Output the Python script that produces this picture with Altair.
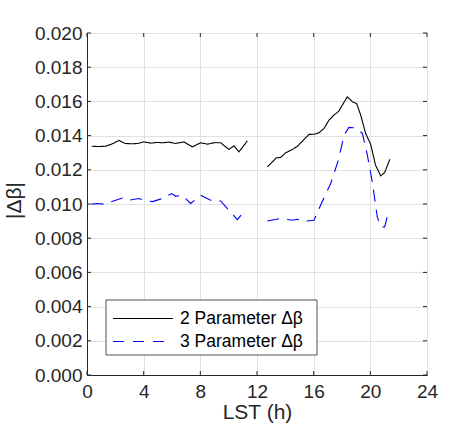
import altair as alt
import pandas as pd

# Local solar time (h) and |delta beta| for the two fits, split at the data gap
hours_2p_a = [0.33, 0.85, 1.32, 1.79, 2.26, 2.68, 3.20, 3.56, 4.02, 4.50, 4.97, 5.32,
              5.79, 6.21, 6.85, 7.44, 8.02, 8.50, 8.96, 9.44, 10.02, 10.37, 10.73, 11.32]
vals_2p_a = [0.01338, 0.01336, 0.01338, 0.01352, 0.01372, 0.01354, 0.01352, 0.01354,
             0.01363, 0.01356, 0.01360, 0.01358, 0.01362, 0.01354, 0.01363, 0.01334,
             0.01358, 0.01350, 0.01358, 0.01358, 0.01319, 0.01340, 0.01305, 0.01369]

hours_2p_b = [12.73, 13.08, 13.37, 13.67, 14.02, 14.50, 14.85, 15.20, 15.67, 16.02, 16.37,
              16.73, 17.08, 17.43, 17.78, 18.02, 18.38, 18.73, 19.03, 19.32, 19.67, 20.02,
              20.37, 20.73, 21.01, 21.38]
vals_2p_b = [0.01217, 0.01246, 0.01270, 0.01272, 0.01299, 0.01319, 0.01338, 0.01367,
             0.01407, 0.01408, 0.01416, 0.01442, 0.01490, 0.01520, 0.01543, 0.01578,
             0.01627, 0.01598, 0.01588, 0.01520, 0.01412, 0.01350, 0.01227, 0.01164,
             0.01184, 0.01262]

hours_3p_a = [0.33, 0.73, 1.20, 2.03, 2.50, 2.96, 3.67, 4.14, 4.62, 5.32, 5.98, 6.26,
              6.73, 7.32, 8.02, 8.73, 9.44, 10.02, 10.61, 10.97]
vals_3p_a = [0.00999, 0.01003, 0.00999, 0.01022, 0.01035, 0.01022, 0.01032, 0.01018,
             0.01014, 0.01032, 0.01061, 0.01045, 0.01051, 0.01003, 0.01051, 0.01022,
             0.01018, 0.00963, 0.00909, 0.00944]

hours_3p_b = [12.73, 13.67, 14.50, 14.85, 15.38, 16.02, 16.49, 17.20, 17.78, 18.14,
              18.49, 18.96, 19.44, 19.79, 20.14, 20.49, 20.73, 21.01, 21.31]
vals_3p_b = [0.00901, 0.00915, 0.00905, 0.00911, 0.00899, 0.00905, 0.00993, 0.01120,
             0.01266, 0.01403, 0.01448, 0.01445, 0.01413, 0.01286, 0.01129, 0.00924,
             0.00866, 0.00866, 0.00963]

series_names = ["2 Parameter Δβ", "3 Parameter Δβ"]
series_colors = ["#000000", "#0000ff"]

x_ticks = [0, 4, 8, 12, 16, 20, 24]
y_ticks = [0.000, 0.002, 0.004, 0.006, 0.008, 0.010, 0.012, 0.014, 0.016, 0.018, 0.020]

rows = []
for name, seg, hs, vs in [
    (series_names[0], "a2", hours_2p_a, vals_2p_a),
    (series_names[0], "b2", hours_2p_b, vals_2p_b),
    (series_names[1], "a3", hours_3p_a, vals_3p_a),
    (series_names[1], "b3", hours_3p_b, vals_3p_b),
]:
    for h, v in zip(hs, vs):
        rows.append({"hour": h, "value": v, "series": name, "seg": seg})
df = pd.DataFrame(rows)

W, H = 340, 342
FONT = "Liberation Sans"
INK = "#262626"
TL = 4  # inward tick length

xs = alt.Scale(domain=[0, 24], nice=False)
ys = alt.Scale(domain=[0, 0.02], nice=False)

x_axis = alt.Axis(values=x_ticks, tickCount=len(x_ticks), format="d", ticks=False, labelPadding=7,
                  labelOverlap=False, labelFlush=False,
                  title="LST (h)", titleFontSize=21, titleFontWeight="normal",
                  titleX=W / 2, titleY=37, titleBaseline="middle")
y_axis = alt.Axis(values=y_ticks, tickCount=len(y_ticks), format=".3f", ticks=False, labelPadding=5,
                  labelOverlap=False, labelFlush=False,
                  title="|Δβ|", titleFontSize=21, titleFontWeight="normal",
                  titleX=-73, titleY=H / 2 - 4, titleBaseline="middle", titleAngle=270)

lines = alt.Chart(df).mark_line(strokeWidth=1.1).encode(
    x=alt.X("hour:Q", scale=xs, axis=x_axis),
    y=alt.Y("value:Q", scale=ys, axis=y_axis),
    color=alt.Color("series:N", scale=alt.Scale(domain=series_names, range=series_colors), legend=None),
    strokeDash=alt.StrokeDash("series:N", scale=alt.Scale(domain=series_names, range=[[1, 0], [12, 8]]), legend=None),
    detail="seg:N",
)

# inward tick marks on all four sides
xt = pd.DataFrame({"hour": x_ticks})
yt = pd.DataFrame({"value": y_ticks})
tick_style = dict(color=INK, strokeWidth=1)
xtick_bottom = alt.Chart(xt).mark_rule(**tick_style).encode(
    x=alt.X("hour:Q", scale=xs), y=alt.value(H), y2=alt.value(H - TL))
xtick_top = alt.Chart(xt).mark_rule(**tick_style).encode(
    x=alt.X("hour:Q", scale=xs), y=alt.value(0), y2=alt.value(TL))
ytick_left = alt.Chart(yt).mark_rule(**tick_style).encode(
    y=alt.Y("value:Q", scale=ys), x=alt.value(0), x2=alt.value(TL))
ytick_right = alt.Chart(yt).mark_rule(**tick_style).encode(
    y=alt.Y("value:Q", scale=ys), x=alt.value(W - TL), x2=alt.value(W))

# legend box in the lower left corner
one = pd.DataFrame({"k": [0]})
leg_box = alt.Chart(one).mark_rect(fill="white", stroke=INK, strokeWidth=0.8).encode(
    x=alt.value(19), x2=alt.value(230), y=alt.value(267), y2=alt.value(322))
leg_line1 = alt.Chart(one).mark_rule(color=series_colors[0], strokeWidth=1.1).encode(
    x=alt.value(26), x2=alt.value(86), y=alt.value(285.5))
leg_line2 = alt.Chart(one).mark_rule(color=series_colors[1], strokeWidth=1.1, strokeDash=[11, 9]).encode(
    x=alt.value(26), x2=alt.value(86), y=alt.value(308.5))
leg_text1 = alt.Chart(one).mark_text(align="left", baseline="middle", font=FONT, fontSize=17.5,
                                     color="#000000", text=series_names[0]).encode(
    x=alt.value(93), y=alt.value(285.5))
leg_text2 = alt.Chart(one).mark_text(align="left", baseline="middle", font=FONT, fontSize=17.5,
                                     color="#000000", text=series_names[1]).encode(
    x=alt.value(93), y=alt.value(308.5))

chart = alt.layer(
    lines, xtick_bottom, xtick_top, ytick_left, ytick_right,
    leg_box, leg_line1, leg_line2, leg_text1, leg_text2,
).properties(
    width=W, height=H,
    autosize=alt.AutoSizeParams(type="none"),
    padding={"left": 87, "top": 33, "right": 473 - 87 - W, "bottom": 436 - 33 - H},
    background="white",
).configure_view(
    stroke=INK, strokeWidth=1,
).configure_axis(
    labelFont=FONT, titleFont=FONT, labelFontSize=19, labelColor=INK, titleColor=INK,
    titleFontWeight="normal",
    domainColor=INK, domainWidth=1, gridColor="#e0e0e0", gridWidth=1,
)

chart.save("out.html", embed_options={"renderer": "svg", "actions": False})
